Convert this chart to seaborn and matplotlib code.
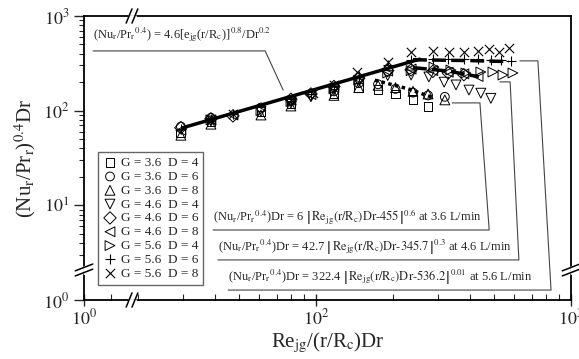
import numpy as np
import matplotlib
matplotlib.use("Agg")
import matplotlib.pyplot as plt
import seaborn as sns
from matplotlib.ticker import FixedLocator, NullFormatter

sns.set_style("ticks")
plt.rcParams['font.family'] = ['Liberation Serif', 'DejaVu Serif']
plt.rcParams['mathtext.fontset'] = 'stix'

# ---- data ----
labels = ['G = 3.6  D = 4', 'G = 3.6  D = 6', 'G = 3.6  D = 8',
          'G = 4.6  D = 4', 'G = 4.6  D = 6', 'G = 4.6  D = 8',
          'G = 5.6  D = 4', 'G = 5.6  D = 6', 'G = 5.6  D = 8']
markers = ['s', 'o', '^', 'v', 'D', '<', '>', '+', 'x']

x_g36_d4 = [29.5, 38.7, 60.8, 79.7, 117.5, 147, 175, 205, 240, 275]
y_g36_d4 = [58, 76, 98, 118, 152, 175, 168, 150, 130, 110]
x_g36_d6 = [29.5, 38.7, 60.8, 79.7, 117.5, 147, 175, 205, 240, 275, 320]
y_g36_d6 = [68, 84, 108, 128, 160, 195, 190, 170, 155, 145, 140]
x_g36_d8 = [29.5, 38.7, 60.8, 79.7, 117.5, 147, 175, 205, 240, 275, 320]
y_g36_d8 = [55, 72, 90, 112, 145, 175, 185, 175, 160, 150, 130]
x_g46_d4 = [38.7, 60.8, 79.7, 95.5, 117.5, 147, 191, 236, 277, 318, 354, 398, 443, 485]
y_g46_d4 = [78, 98, 120, 140, 165, 200, 235, 238, 227, 200, 187, 165, 153, 135]
x_g46_d6 = [29.5, 38.7, 47.2, 79.7, 95.5, 117.5, 147, 191, 236, 287, 330, 380]
y_g46_d6 = [66, 82, 88, 132, 150, 180, 220, 265, 270, 260, 250, 240]
x_g46_d8 = [29.5, 38.7, 47.2, 79.7, 95.5, 117.5, 147, 191, 236, 287, 330, 380, 432]
y_g46_d8 = [62, 80, 90, 128, 148, 175, 215, 262, 275, 265, 255, 245, 230]
x_g56_d4 = [38.7, 60.8, 79.7, 117.5, 147, 191, 236, 290, 338, 387, 443, 494, 541, 592]
y_g56_d4 = [80, 100, 125, 170, 210, 250, 265, 289, 269, 250, 256, 256, 238, 250]
x_g56_d6 = [29.5, 38.7, 47.2, 79.7, 95.5, 117.5, 147, 191, 236, 287, 329, 380, 432, 485, 531, 581]
y_g56_d6 = [64, 82, 92, 128, 150, 182, 235, 300, 345, 350, 352, 348, 350, 345, 340, 335]
x_g56_d8 = [38.7, 47.2, 79.7, 97.5, 117.5, 145, 191, 236, 287, 332, 380, 432, 475, 520, 570]
y_g56_d8 = [80, 92, 130, 155, 187, 255, 326, 420, 430, 415, 415, 430, 450, 420, 455]

series_x = [x_g36_d4, x_g36_d6, x_g36_d8, x_g46_d4, x_g46_d6, x_g46_d8, x_g56_d4, x_g56_d6, x_g56_d8]
series_y = [y_g36_d4, y_g36_d6, y_g36_d8, y_g46_d4, y_g46_d6, y_g46_d8, y_g56_d4, y_g56_d6, y_g56_d8]

# correlation line and the three flow-rate fits
corr_x = [30, 255]
corr_y = [66, 350]
fit36_x = [170, 230, 290]
fit36_y = [210, 170, 136]
fit46_x = [240, 330, 435]
fit46_y = [285, 262, 228]
fit56_x = [240, 400, 570]
fit56_y = [345, 338, 330]

# ---- broken log x scale (compressed segment below the break) ----
KU = [0.0, 1.0, 1.282, 3.0]
KP = [0.0, 27.0, 49.0, 487.0]


def fwd(x):
    u = np.log10(np.clip(np.asarray(x, float), 1e-300, None))
    p = np.interp(u, KU, KP)
    p = np.where(u > KU[-1], KP[-1] + (u - KU[-1]) * 255.0, p)
    p = np.where(u < KU[0], KP[0] + (u - KU[0]) * 27.0, p)
    return p


def inv(p):
    p = np.asarray(p, float)
    u = np.interp(p, KP, KU)
    u = np.where(p > KP[-1], KU[-1] + (p - KP[-1]) / 255.0, u)
    u = np.where(p < KP[0], KU[0] + (p - KP[0]) / 27.0, u)
    return 10 ** u


fig = plt.figure(figsize=(5.79, 3.59), dpi=100)
ax = fig.add_axes([84 / 579, 1 - 300 / 359, 487 / 579, 284 / 359])
ax.set_xscale('function', functions=(fwd, inv))
ax.set_yscale('log')

handles = []
for xs, ys, m, lab in zip(series_x, series_y, markers, labels):
    if m in ('+', 'x'):
        sns.scatterplot(x=xs, y=ys, marker=m, s=45, color='black', linewidth=0.8, ax=ax, label=lab)
    else:
        sns.scatterplot(x=xs, y=ys, marker=m, s=40 if m in 'sDo' else 50, facecolor='none',
                        edgecolor='black', linewidth=0.7, ax=ax, label=lab)
    handles.append(ax.collections[-1])

sns.lineplot(x=corr_x, y=corr_y, color='black', lw=2.5, ax=ax, zorder=4)
sns.lineplot(x=fit36_x, y=fit36_y, color='black', lw=2.5, ls=(0, (1, 1)), ax=ax, zorder=4)
sns.lineplot(x=fit46_x, y=fit46_y, color='black', lw=2.5, ls=(0, (4, 1.5)), ax=ax, zorder=4)
sns.lineplot(x=fit56_x, y=fit56_y, color='black', lw=2.5, ls=(0, (4, 1.5)), ax=ax, zorder=4)

ax.set_xlim(1, 1000)
ax.set_ylim(1, 1000)
ax.set_xticks([1, 100, 1000], labels=['$10^0$', '$10^2$', '$10^3$'])
ax.xaxis.set_minor_locator(FixedLocator([10] + list(range(20, 100, 10)) + list(range(200, 1000, 100))))
ax.xaxis.set_minor_formatter(NullFormatter())
ax.set_yticks([1, 10, 100, 1000], labels=['$10^0$', '$10^1$', '$10^2$', '$10^3$'])
ymin = [v * d for d in (1, 10, 100) for v in range(2, 10) if v * d >= 3]
ax.yaxis.set_minor_locator(FixedLocator(ymin))
ax.yaxis.set_minor_formatter(NullFormatter())
ax.tick_params(axis='x', which='major', direction='inout', length=8, width=1, labelsize=13, pad=2)
ax.tick_params(axis='x', which='minor', direction='in', length=4, width=0.8)
ax.tick_params(axis='y', which='major', direction='out', length=7, width=1, labelsize=13)
ax.tick_params(axis='y', which='minor', direction='out', length=3.5, width=0.8)
for s in ax.spines.values():
    s.set_linewidth(1.3)
    s.set_color('black')

ax.set_xlabel(r'Re$_\mathrm{jg}$/(r/R$_\mathrm{c}$)Dr', fontsize=15, labelpad=2)
ax.set_ylabel(r'(Nu$_\mathrm{r}$/Pr$_\mathrm{r}$)$^{0.4}$Dr', fontsize=15, labelpad=4)

leg = ax.legend(handles=handles, labels=labels, loc='lower left', bbox_to_anchor=(0.029, 0.053),
                borderaxespad=0, fontsize=9.5, fancybox=False, edgecolor='#666666', framealpha=1,
                labelspacing=0.12, handletextpad=0.3, handlelength=1.0, borderpad=0.4)
leg.get_frame().set_linewidth(1.0)

# ---- annotations ----
tr = ax.transAxes
ax.text(0.0185, 0.933, r'(Nu$_\mathrm{r}$/Pr$_\mathrm{r}$$^{0.4}$) = 4.6[e$_\mathrm{jg}$(r/R$_\mathrm{c}$)]$^{0.8}$/Dr$^{0.2}$',
        transform=tr, fontsize=9, va='center', ha='left')
ax.plot([0.0185, 0.372, 0.409], [0.877, 0.877, 0.739], transform=tr, color='#444444', lw=0.8)

notes = [
    (r'(Nu$_\mathrm{r}$/Pr$_\mathrm{r}$$^{0.4}$)Dr = 6 $\left|\,\mathrm{Re_{jg}(r/R_c)Dr\text{-}455}\,\right|^{0.6}$ at 3.6 L/min',
     0.265, 0.292, 0.2465, 0.832, 0.813, 0.694, 0.756),
    (r'(Nu$_\mathrm{r}$/Pr$_\mathrm{r}$$^{0.4}$)Dr = 42.7 $\left|\,\mathrm{Re_{jg}(r/R_c)Dr\text{-}345.7}\,\right|^{0.3}$ at 4.6 L/min',
     0.275, 0.187, 0.141, 0.893, 0.875, 0.768, 0.854),
    (r'(Nu$_\mathrm{r}$/Pr$_\mathrm{r}$$^{0.4}$)Dr = 322.4 $\left|\,\mathrm{Re_{jg}(r/R_c)Dr\text{-}536.2}\,\right|^{0.01}$ at 5.6 L/min',
     0.296, 0.081, 0.035, 0.959, 0.932, 0.842, 0.895),
]
for txt, tx, ty, uy, ux, lx, ly, hx in notes:
    ax.text(tx, ty, txt, transform=tr, fontsize=9, va='center', ha='left')
    ax.plot([tx, ux, lx, hx], [uy, uy, ly, ly], transform=tr, color='#444444', lw=0.8)

# ---- axis break marks ----
def brk(x0, y0, dx, dy, ox, oy):
    for k in (-1, 1):
        ax.plot([x0 - dx + k * ox, x0 + dx + k * ox], [y0 - dy + k * oy, y0 + dy + k * oy],
                transform=tr, color='black', lw=1.1, clip_on=False, zorder=6)

fxb = (132 - 84) / 487
fyb = (300 - 270) / 284
for yy in (0, 1):
    ax.plot([fxb - 0.006, fxb + 0.006], [yy, yy], transform=tr, color='white', lw=2, clip_on=False, zorder=5)
    brk(fxb, yy, 0.006, 0.025, 0.006, 0)
for xx in (0, 1):
    ax.plot([xx, xx], [fyb - 0.009, fyb + 0.009], transform=tr, color='white', lw=2, clip_on=False, zorder=5)
    brk(xx, fyb, 0.018, 0.012, 0, 0.009)

fig.savefig('out.png', dpi=100)
